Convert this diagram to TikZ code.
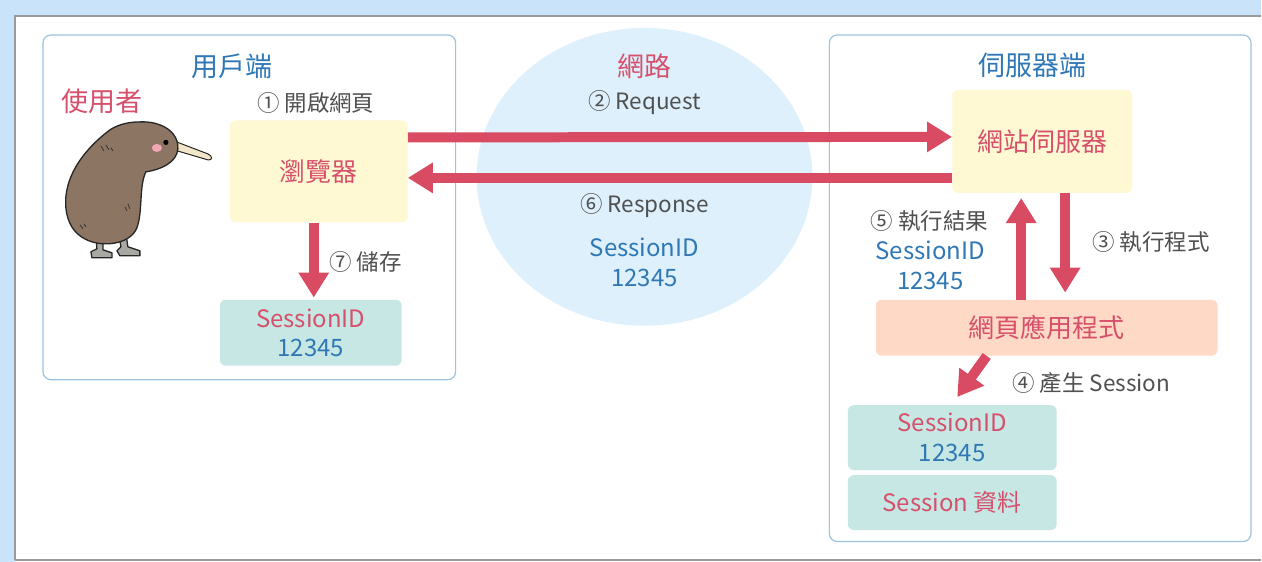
\documentclass[tikz,border=0pt]{standalone}
\usepackage{fontspec}
\setmainfont{Noto Sans CJK TC}
\usetikzlibrary{arrows.meta}

\definecolor{bgblue}{HTML}{C8E3FA}
\definecolor{framegray}{HTML}{9A9A9A}
\definecolor{boxline}{HTML}{9CC4DE}
\definecolor{netfill}{HTML}{DDF0FB}
\definecolor{yellowbox}{HTML}{FEF8D3}
\definecolor{tealbox}{HTML}{C6E7E4}
\definecolor{peachbox}{HTML}{FDD9C6}
\definecolor{txtred}{HTML}{D7506B}
\definecolor{txtblue}{HTML}{2F78B5}
\definecolor{txtgray}{HTML}{505050}
\definecolor{arrred}{HTML}{D94A63}
\definecolor{kiwibrown}{HTML}{8C7563}
\definecolor{beak}{HTML}{F2E7C8}
\definecolor{cheek}{HTML}{F2A7B4}
\definecolor{foot}{HTML}{A9A9A3}

\newcommand{\fs}[1]{\fontsize{#1}{#1}\selectfont}

\tikzset{
  area/.style={draw=boxline, line width=1.2pt, rounded corners=8pt},
  card/.style={rounded corners=6pt, inner sep=0pt, align=center},
  title/.style={text=txtblue, font=\fs{27}},
  heading/.style={text=txtred, font=\fs{27}},
  step label/.style={text=txtgray, font=\fs{22.5}},
  flow/.style={draw=arrred, line width=10pt, -{Triangle[length=25pt,width=29pt]}},
  kiwiline/.style={draw=black!85, line width=1.3pt, line join=round},
}

\begin{document}
\begin{tikzpicture}[x=1pt,y=-1pt]
  % page frame
  \fill[bgblue] (0,0) rectangle (1262,562);
  \fill[white] (15,16) rectangle (1262,562);
  \draw[framegray, line width=2pt] (15,560.5) -- (15,16) -- (1262,16);
  \draw[framegray, line width=2pt] (15,560.5) -- (1262,560.5);
  \useasboundingbox (0,0) rectangle (1262,562);

  % the three areas
  \draw[area] (43,35) rectangle (456,380);
  \fill[netfill] (645,177) ellipse [x radius=168pt, y radius=149pt];
  \draw[area] (830,35) rectangle (1252,542);

  % client side
  \node[title] (clienttitle) at (232,66) {用戶端};
  \node[heading] (user) at (102,101) {使用者};
  \node[step label] (s1) at (316,103) {① 開啟網頁};
  \node[card, fill=yellowbox, minimum width=178pt, minimum height=102pt,
        text=txtred, font=\fs{26}] (browser) at (319,171.5) {瀏覽器};
  \node[card, fill=tealbox, minimum width=182pt, minimum height=66pt,
        font=\fs{24}, execute at begin node=\setlength{\baselineskip}{29pt}]
        (clientsid) at (311,333) {\textcolor{txtred}{SessionID}\\\textcolor{txtblue}{12345}};
  \node[step label, anchor=west] (s7) at (326,262) {⑦ 儲存};

  % network
  \node[heading] (nettitle) at (645,66) {網路};
  \node[step label] (s2) at (645,103) {② Request};
  \node[step label] (s6) at (645,206) {⑥ Response};
  \node[text=txtblue, font=\fs{24}, align=center,
        execute at begin node=\setlength{\baselineskip}{30pt}]
        (netsid) at (645,263) {SessionID\\12345};

  % server side
  \node[title] (servertitle) at (1033,65) {伺服器端};
  \node[card, fill=yellowbox, minimum width=180pt, minimum height=103pt,
        text=txtred, font=\fs{26}] (server) at (1043,141.5) {網站伺服器};
  \node[card, fill=peachbox, minimum width=342pt, minimum height=56pt,
        text=txtred, font=\fs{26}] (webapp) at (1047.5,328) {網頁應用程式};
  \node[card, fill=tealbox, minimum width=209pt, minimum height=65pt,
        font=\fs{24}, execute at begin node=\setlength{\baselineskip}{30pt}]
        (serversid) at (953,438) {\textcolor{txtred}{SessionID}\\\textcolor{txtblue}{12345}};
  \node[card, fill=tealbox, minimum width=209pt, minimum height=55pt,
        text=txtred, font=\fs{24}] (sessiondata) at (953,503) {Session 資料};
  \node[step label] (s5) at (930,221) {⑤ 執行結果};
  \node[text=txtblue, font=\fs{24}, align=center,
        execute at begin node=\setlength{\baselineskip}{30pt}]
        (resultsid) at (931,266) {SessionID\\12345};
  \node[step label] (s3) at (1152,242) {③ 執行程式};
  \node[step label] (s4) at (1092,383) {④ 產生 Session};

  % message arrows
  \draw[flow] ([yshift=34pt]browser.east) -- ([yshift=4.5pt]server.west);
  \draw[flow] ([yshift=-36.5pt]server.west) -- ([yshift=-6.5pt]browser.east);
  \draw[flow] ([xshift=-5pt]browser.south) -- ([xshift=3pt,yshift=2pt]clientsid.north);
  \draw[flow] ([xshift=23pt]server.south) -- ([xshift=18.5pt,yshift=7pt]webapp.north);
  \draw[flow] ([xshift=-25.5pt]webapp.north) -- ([xshift=-21pt,yshift=-5pt]server.south);
  \draw[flow] ([xshift=-60pt]webapp.south) -- ([xshift=5pt,yshift=8pt]serversid.north);

  % kiwi
  \begin{scope}
    % legs and feet
    \draw[kiwiline, fill=foot] (96,236) -- (97,249) -- (91,252) -- (92,258) -- (112,258)
      -- (112,253) -- (103,250) -- (103,236) -- cycle;
    \draw[kiwiline, fill=foot] (119,234) -- (121,247) -- (117,251) -- (120,256) -- (140,256)
      -- (140,251) -- (128,247) -- (126,234) -- cycle;
    % beak
    \draw[kiwiline, fill=beak, line width=1pt] (174,141) -- (208,154)
      .. controls (213,156) and (213,161) .. (208,160) -- (174,150) -- cycle;
    % body and head
    \draw[kiwiline, fill=kiwibrown]
      (140,122) .. controls (160,121) and (179,131) .. (178,149)
      .. controls (177,163) and (160,170) .. (146,172)
      .. controls (139,186) and (143,212) .. (137,228)
      .. controls (131,243) and (108,247) .. (92,242)
      .. controls (72,236) and (64,218) .. (66,196)
      .. controls (69,168) and (90,145) .. (110,130)
      .. controls (119,124) and (130,122) .. (140,122) -- cycle;
    % cheek and eye
    \fill[cheek] (157,148) ellipse [x radius=5pt, y radius=4pt];
    \fill[black] (166,142.5) circle [radius=2.6pt];
    % feather marks
    \draw[black!80, line width=0.8pt] (101,146) -- (104,151) (106,145) -- (109,150)
      (111,148) -- (113,151);
    \draw[black!80, line width=0.8pt] (125,207) -- (127,211) (128,204) -- (130,209);
    \draw[black!80, line width=0.8pt] (80,225) -- (83,229) (84,224) -- (86,227);
  \end{scope}
\end{tikzpicture}
\end{document}
